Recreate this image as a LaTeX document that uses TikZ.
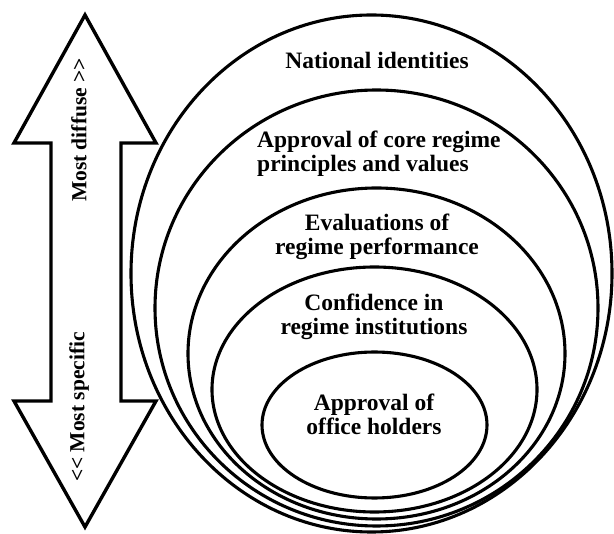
\documentclass[tikz,border=0pt]{standalone}
\usepackage{fontspec}
\usetikzlibrary{shapes.geometric}

% heavy serif face for all labels
\newfontfamily\labelfont{Liberation Serif}[Ligatures=NoCommon]

\tikzset{
  ring/.style={draw, ellipse, line width=3.1pt, inner sep=0pt},
  label text/.style={font=\labelfont\bfseries\fontsize{23.5}{24}\selectfont, inner sep=0pt, align=center},
  side text/.style={font=\labelfont\bfseries\fontsize{21.5}{23}\selectfont, inner sep=0pt, rotate=90},
  bigarrow/.style={draw, line width=3.4pt, line join=miter, fill=white}
}

\begin{document}
\begin{tikzpicture}[x=1pt, y=-1pt]
  \useasboundingbox (0,0) rectangle (614,534);

  % double-headed arrow on the left
  \draw[bigarrow]
    (85,15) -- (156,143) -- (121,143) -- (121,401) -- (156,401)
    -- (85,527) -- (14,401) -- (51,401) -- (51,143) -- (14,143) -- cycle;
  \node[side text] (diffuse)  at (79,130) {Most diffuse >\kern0pt>};
  \node[side text] (specific) at (79,407) {<\kern0pt< Most specific};

  % nested support levels, from the most diffuse to the most specific
  \node[ring, minimum width=481pt, minimum height=517pt] (national)    at (371.5,273.5) {};
  \node[ring, minimum width=443pt, minimum height=436pt] (principles)  at (376.5,308) {};
  \node[ring, minimum width=377pt, minimum height=331pt] (performance) at (376.5,353.5) {};
  \node[ring, minimum width=325pt, minimum height=245pt] (institutions) at (374.5,389.5) {};
  \node[ring, minimum width=225pt, minimum height=146pt] (holders)     at (374.5,425) {};

  % level labels
  \node[label text, anchor=north] (t-national) at (377,52) {National identities};
  \node[label text, align=left, anchor=north west] (t-principles) at (257,131)
    {Approval of core regime\\principles and values};
  \node[label text, anchor=north] (t-performance) at (377,214)
    {Evaluations of\\regime performance};
  \node[label text, anchor=north] (t-institutions) at (374,294)
    {Confidence in\\regime institutions};
  \node[label text, anchor=north] (t-holders) at (374,394)
    {Approval of\\office holders};
\end{tikzpicture}
\end{document}
